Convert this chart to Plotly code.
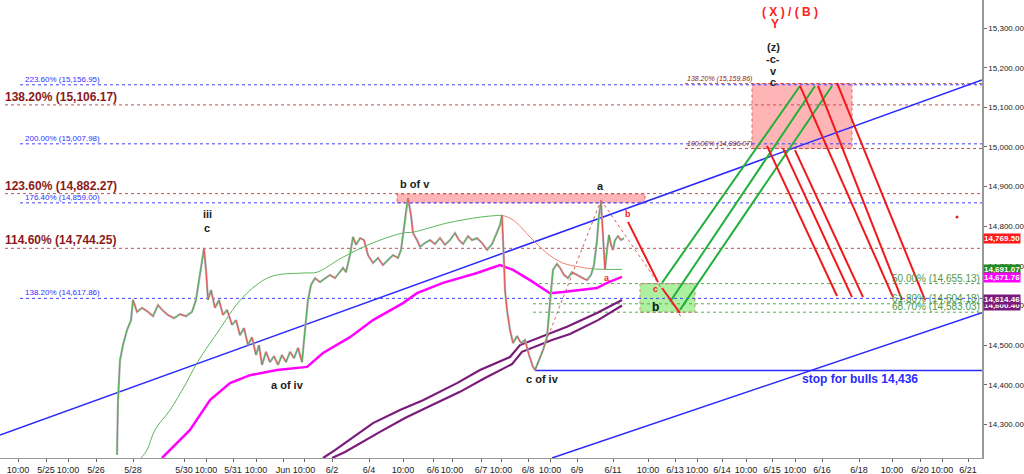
import plotly.graph_objects as go

# ---------------- data ----------------
# x is a session index (bar position); tick positions/labels:
tick_pos = [18, 46, 68, 96, 133, 184, 206, 233, 256, 283, 304, 332, 369, 403, 433, 452, 481, 501,
            528, 550, 577, 613, 648, 675, 697, 722, 746, 772, 795, 822, 859, 892, 920, 942, 968]
tick_text = ["10:00", "5/25", "10:00", "5/26", "5/28", "5/30", "10:00", "5/31", "10:00", "Jun", "10:00",
             "6/2", "6/4", "10:00", "6/6", "10:00", "6/7", "10:00", "6/8", "10:00", "6/9", "6/11",
             "10:00", "6/13", "10:00", "6/14", "10:00", "6/15", "10:00", "6/16", "6/18", "10:00",
             "6/20", "10:00", "6/21"]

price_x = [117, 118, 120, 123, 127, 131, 133, 137, 142, 148, 153, 158, 162, 168, 174, 180, 186, 192, 196, 199,
           202, 204, 206, 208, 211, 215, 219, 223, 227, 232, 236, 240, 244, 248, 252, 256, 259, 262, 266, 270,
           274, 278, 282, 286, 290, 294, 298, 302, 305, 308, 311, 315, 320, 325, 330, 335, 340, 343, 346, 350,
           353, 356, 360, 364, 368, 373, 378, 383, 388, 393, 398, 401, 404, 406, 408, 411, 413, 417, 420, 425,
           430, 435, 440, 445, 450, 455, 459, 463, 468, 472, 477, 482, 487, 492, 497, 500, 502, 504, 505, 507,
           510, 513, 517, 521, 525, 529, 533, 535, 539, 543, 547, 550, 553, 557, 560, 564, 568, 572, 577, 582,
           587, 591, 594, 597, 599, 601, 603, 605, 607, 609, 611, 613, 615, 618, 621, 624]
price_y = [14223, 14361, 14462, 14500, 14538, 14563, 14614, 14584, 14594, 14584, 14573, 14601, 14589, 14576,
           14568, 14578, 14573, 14584, 14614, 14664, 14710, 14745, 14690, 14614, 14639, 14594, 14614, 14576,
           14589, 14551, 14563, 14525, 14543, 14500, 14520, 14475, 14500, 14450, 14483, 14457, 14472, 14450,
           14475, 14457, 14483, 14467, 14493, 14457, 14538, 14614, 14652, 14669, 14659, 14669, 14677, 14669,
           14684, 14695, 14684, 14727, 14773, 14753, 14770, 14765, 14727, 14707, 14720, 14702, 14715, 14727,
           14720, 14740, 14796, 14841, 14871, 14828, 14783, 14765, 14748, 14758, 14765, 14755, 14770, 14753,
           14765, 14783, 14765, 14755, 14775, 14765, 14770, 14758, 14740, 14755, 14783, 14803, 14828, 14715,
           14639, 14589, 14538, 14505, 14523, 14505, 14513, 14475, 14445, 14437, 14462, 14487, 14520, 14614,
           14690, 14705, 14695, 14677, 14669, 14684, 14677, 14669, 14664, 14677, 14702, 14765, 14828, 14861,
           14778, 14690, 14740, 14778, 14753, 14740, 14765, 14775, 14765, 14770]

ma_x = [141, 147, 155, 170, 185, 197, 217, 243, 270, 303, 317, 343, 373, 403, 413, 447, 480, 502,
        513, 530, 547, 563, 580, 593, 608, 622]
ma_y = [14215, 14235, 14286, 14336, 14399, 14455, 14530, 14621, 14672, 14682, 14684, 14722, 14758,
        14783, 14785, 14808, 14823, 14828, 14816, 14773, 14732, 14707, 14697, 14692, 14691, 14691]
ma_split = [502, 593]  # MA below price -> green, above -> red

mag_x = [162, 170, 190, 210, 230, 250, 277, 307, 323, 350, 373, 403, 417, 443, 477, 500, 513, 530,
         550, 563, 580, 597, 607, 622]
mag_y = [14215, 14235, 14286, 14361, 14404, 14424, 14437, 14445, 14480, 14520, 14563, 14606, 14631,
         14657, 14682, 14702, 14690, 14664, 14631, 14634, 14639, 14644, 14657, 14672]

pur1_x = [323, 335, 373, 400, 423, 457, 480, 510, 520, 550, 567, 597, 622]
pur1_y = [14215, 14235, 14303, 14336, 14361, 14404, 14437, 14470, 14500, 14530, 14546, 14581, 14614]
pur2_x = [332, 345, 380, 405, 430, 460, 485, 512, 522, 552, 570, 598, 622]
pur2_y = [14215, 14230, 14281, 14316, 14346, 14382, 14417, 14452, 14483, 14513, 14528, 14563, 14600]

# trend channel
chan_up_x = [0, 982]
chan_up_y = [14273, 15169]
chan_lo_x = [552, 982]
chan_lo_y = [14215, 14582]
stop_level = 14436

# fib levels (label, value)
fib_blue = [("223.60% (15,156.95)", 15156.95), ("200.00% (15,007.98)", 15007.98),
            ("176.40% (14,859.00)", 14859.00), ("138.20% (14,617.86)", 14617.86)]
fib_red = [("138.20% (15,106.17)", 15106.17), ("123.60% (14,882.27)", 14882.27),
           ("114.60% (14,744.25)", 14744.25)]
fib_red_right = [("138.20% (15,159.86)", 15159.86), ("100.00% (14,996.07)", 14996.07)]
fib_green = [("50.00% (14,655.13)", 14655.13), ("61.80% (14,604.18)", 14604.18),
             ("68.70% (14,583.03)", 14583.03)]

# zones (x0, x1, y0, y1)
zone_top = (397, 645, 14859, 14882)
zone_box = (752, 852, 14996, 15160)
zone_green = (640, 695, 14583, 14655)

# projection segments (x0, y0, x1, y1)
green_proj = [(662, 14657, 800, 15154), (670, 14609, 815, 15154), (680, 14589, 832, 15154)]
red_proj = [(767, 15003, 837, 14624), (783, 14997, 852, 14621), (795, 14992, 863, 14621),
            (800, 15154, 893, 14621), (818, 15154, 902, 14614), (837, 15162, 925, 14614)]
red_wave = [(628, 14811, 658, 14659), (662, 14644, 680, 14581)]
red_dotted = [(535, 14437, 601, 14866), (601, 14866, 682, 14568)]

# last-value axis labels (value, text, color)
axis_labels = [(14769.50, "14,769.50", "#ff1a1a"), (14691.07, "14,691.07", "#1f8a1f"),
               (14671.76, "14,671.76", "#ff00ff"), (14600.40, "14,600.40", "#7a1a7a"),
               (14614.46, "14,614.46", "#7a1a7a")]

# wave labels (x, y, text, color, size)
wave_labels = [(207, 14831, "iii", "#222", 11), (207, 14796, "c", "#222", 11),
               (415, 14907, "b of v", "#222", 11), (287, 14399, "a of iv", "#222", 11),
               (542, 14414, "c of iv", "#222", 11), (600, 14902, "a", "#222", 11),
               (790, 15341, "( X ) / ( B )", "#ff2020", 12), (775, 15310, "Y", "#ff2020", 12),
               (773, 15252, "(z)", "#222", 11), (773, 15222, "-c-", "#222", 11),
               (773, 15192, "v", "#222", 11), (773, 15164, "c", "#222", 11),
               (655, 14642, "c", "#ff2020", 9), (655, 14596, "b", "#111", 12),
               (628, 14831, "b", "#ff2020", 9), (607, 14669, "a", "#ff2020", 9),
               (860, 14414, "stop for bulls 14,436", "#2a2aff", 12)]
red_dot = (957, 14823)

XMAX = 982
YMIN, YMAX = 14215, 15371
FONT = "Liberation Sans"

fig = go.Figure()

def seg(x0, y0, x1, y1, color, width=1.0, dash="solid"):
    fig.add_trace(go.Scatter(x=[x0, x1], y=[y0, y1], mode="lines", hoverinfo="skip",
                             line=dict(color=color, width=width, dash=dash), showlegend=False))

# zones
for (x0, x1, y0, y1), fc, lc in [(zone_top, "rgba(255,120,120,0.55)", "#e06060"),
                                 (zone_box, "rgba(255,120,120,0.55)", "#e06060"),
                                 (zone_green, "rgba(120,230,100,0.6)", "#e08080")]:
    fig.add_shape(type="rect", x0=x0, x1=x1, y0=y0, y1=y1, xref="x", yref="y",
                  fillcolor=fc, line=dict(color=lc, width=1, dash="dot"), layer="below")

# fib lines
for label, v in fib_blue:
    seg(20, v, XMAX, v, "#4040ff", 1, "dot")
    fig.add_annotation(x=23, y=v, text=label, showarrow=False, xanchor="left", yanchor="bottom",
                       yshift=-1, font=dict(family=FONT, size=8, color="#3030ff"))
for label, v in fib_red:
    seg(5, v, XMAX, v, "#c05050", 1, "dot")
    fig.add_annotation(x=3, y=v, text="<b>" + label + "</b>", showarrow=False, xanchor="left",
                       yanchor="bottom", yshift=-1, font=dict(family=FONT, size=12, color="#8b1a1a"))
for label, v in fib_red_right:
    seg(685, v, XMAX, v, "#c05050", 1, "dot")
    fig.add_annotation(x=685, y=v, text="<i>" + label + "</i>", showarrow=False, xanchor="left",
                       yanchor="bottom", yshift=-1, font=dict(family=FONT, size=7, color="#8b1a1a"))
for label, v in fib_green:
    seg(533, v, XMAX, v, "#50b050", 1, "dot")
    fig.add_annotation(x=XMAX, y=v, text=label, showarrow=False, xanchor="right", yanchor="bottom",
                       yshift=-2, font=dict(family=FONT, size=10, color="#4a9a4a"))

# trend channel + stop line
seg(chan_up_x[0], chan_up_y[0], chan_up_x[1], chan_up_y[1], "#2a2aff", 1.5)
seg(chan_lo_x[0], chan_lo_y[0], chan_lo_x[1], chan_lo_y[1], "#2a2aff", 1.5)
seg(535, stop_level, XMAX, stop_level, "#2a2aff", 1.5)

# moving averages
for px, py in [(pur1_x, pur1_y), (pur2_x, pur2_y)]:
    fig.add_trace(go.Scatter(x=px, y=py, mode="lines", line=dict(color="#7a1a7a", width=2.2),
                             hoverinfo="skip", showlegend=False))
fig.add_trace(go.Scatter(x=mag_x, y=mag_y, mode="lines", line=dict(color="#ff00ff", width=2.5),
                         hoverinfo="skip", showlegend=False))
gx, gy, rx, ry = [], [], [], []
for xv, yv in zip(ma_x, ma_y):
    if xv <= ma_split[0] or xv >= ma_split[1]:
        gx.append(xv); gy.append(yv)
    if ma_split[0] <= xv <= ma_split[1]:
        rx.append(xv); ry.append(yv)
    if xv == ma_split[0]:
        gx.append(None); gy.append(None)
fig.add_trace(go.Scatter(x=gx, y=gy, mode="lines", line=dict(color="#5cb85c", width=1, shape="spline"),
                         hoverinfo="skip", showlegend=False))
fig.add_trace(go.Scatter(x=rx, y=ry, mode="lines", line=dict(color="#f08070", width=1, shape="spline"),
                         hoverinfo="skip", showlegend=False))

# price: gray wick-like base + up/down coloured segments
fig.add_trace(go.Scatter(x=price_x, y=price_y, mode="lines", line=dict(color="#b0b0b0", width=2.2),
                         hoverinfo="skip", showlegend=False))
ux, uy, dx, dy = [], [], [], []
for i in range(len(price_x) - 1):
    tx, ty = (ux, uy) if price_y[i + 1] >= price_y[i] else (dx, dy)
    tx += [price_x[i], price_x[i + 1], None]
    ty += [price_y[i], price_y[i + 1], None]
fig.add_trace(go.Scatter(x=ux, y=uy, mode="lines", line=dict(color="#4caf50", width=1),
                         hoverinfo="skip", showlegend=False))
fig.add_trace(go.Scatter(x=dx, y=dy, mode="lines", line=dict(color="#f05050", width=1),
                         hoverinfo="skip", showlegend=False))

# projections
for s in green_proj:
    seg(*s, "#22b03a", 2)
for s in red_proj:
    seg(*s, "#f01818", 2)
for s in red_wave:
    seg(*s, "#f01818", 2)
for s in red_dotted:
    seg(*s, "#d06060", 1, "dot")

fig.add_trace(go.Scatter(x=[red_dot[0]], y=[red_dot[1]], mode="markers",
                         marker=dict(color="#e02020", size=3), hoverinfo="skip", showlegend=False))

# wave labels
for x, y, t, c, s in wave_labels:
    fig.add_annotation(x=x, y=y, text="<b>" + t + "</b>", showarrow=False,
                       font=dict(family=FONT, size=s, color=c))

# axis value labels
for v, t, c in axis_labels:
    fig.add_annotation(x=1, xref="paper", y=v, yref="y", text="<b>" + t + "</b>", showarrow=False,
                       xanchor="left", xshift=1, bgcolor=c, borderpad=0,
                       font=dict(family=FONT, size=8, color="white"))

fig.update_layout(
    template="none",
    width=1024, height=474, margin=dict(l=0, r=42, t=0, b=16, autoexpand=False),
    paper_bgcolor="white", plot_bgcolor="white",
    xaxis=dict(range=[0, XMAX], tickvals=tick_pos, ticktext=tick_text, showgrid=False,
               automargin=False, tickangle=0,
               zeroline=False, showline=True, linecolor="#999", ticks="outside", ticklen=3,
               tickcolor="#666", tickfont=dict(family=FONT, size=9, color="#222")),
    yaxis=dict(range=[YMIN, YMAX], side="right", tickvals=list(range(14300, 15301, 100)),
               automargin=False,
               tickformat=",.2f", showgrid=False, zeroline=False, showline=True, mirror=True,
               linecolor="#999", linewidth=1.5, ticks="outside", ticklen=3, tickcolor="#666",
               tickfont=dict(family=FONT, size=8, color="#222")),
    showlegend=False,
)

fig.write_html("out.html", config={"displayModeBar": False},
               post_script="document.body.style.margin='0';document.body.style.overflow='hidden';")
